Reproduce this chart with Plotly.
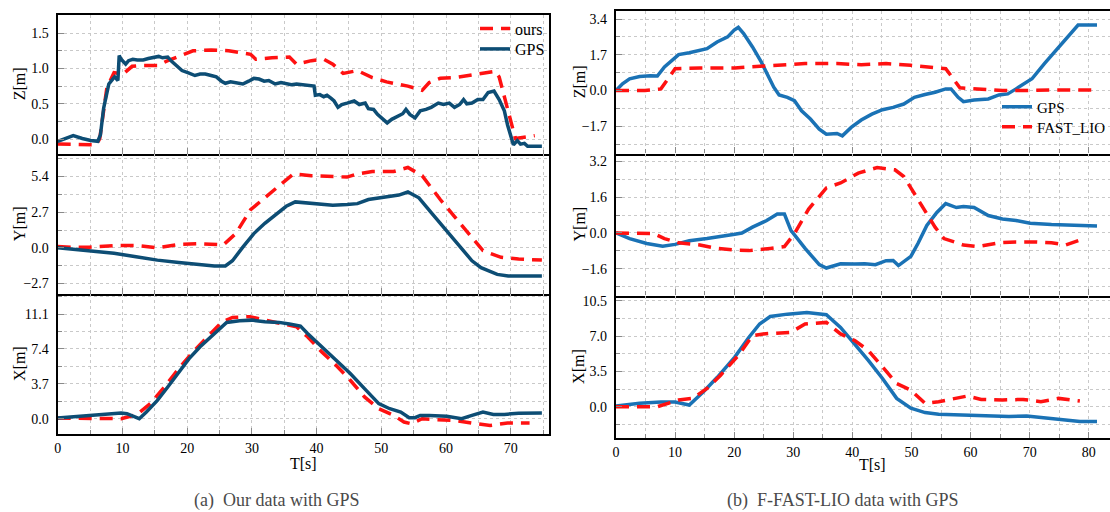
import plotly.graph_objects as go

# ---------------- data: panel (a) Our data with GPS ----------------
a_gps_z_t = [0, 2.4, 3.8, 5.1, 6.2, 6.6, 7.1, 7.5, 7.9, 8.5, 8.8, 9.3, 9.5, 9.8, 10.5, 10.95, 11.6, 12.3, 13.2, 14.0,
             14.8, 15.6, 16.2, 17.0, 17.6, 18.4, 19.2, 20.1, 21.2, 22.0, 22.8, 23.7, 24.5, 25.3, 25.9, 26.7, 27.5,
             28.6, 29.5, 30.3, 31.1, 31.9, 32.6, 33.6, 34.5, 35.3, 36.1, 36.9, 38.1, 39.2, 39.6, 39.8, 40.5, 41.1,
             41.6, 42.2, 42.7, 43.3, 43.9, 44.7, 45.8, 46.6, 47.5, 48.0, 48.8, 49.4, 50.2, 50.9, 51.6, 52.4, 53.3,
             53.8, 54.4, 55.2, 56.0, 56.9, 57.7, 58.8, 59.6, 60.5, 61.3, 62.1, 62.7, 63.2, 64.0, 64.9, 65.7, 66.5,
             67.4, 68.2, 69.0, 69.5, 69.9, 70.4, 71.0, 71.5, 72.1, 72.6, 74.8]
a_gps_z = [-0.03, 0.05, 0.01, -0.02, -0.03, 0.06, 0.44, 0.63, 0.78, 0.85, 0.88, 0.83, 1.18, 1.13, 1.06, 1.11, 1.13,
           1.12, 1.12, 1.14, 1.15, 1.17, 1.15, 1.16, 1.10, 1.04, 0.97, 0.94, 0.90, 0.92, 0.92, 0.90, 0.88, 0.82,
           0.79, 0.81, 0.80, 0.78, 0.82, 0.86, 0.85, 0.82, 0.83, 0.78, 0.80, 0.79, 0.77, 0.78, 0.77, 0.75, 0.75,
           0.62, 0.63, 0.60, 0.62, 0.58, 0.54, 0.45, 0.49, 0.51, 0.54, 0.49, 0.51, 0.43, 0.42, 0.35, 0.28, 0.23,
           0.28, 0.32, 0.36, 0.42, 0.35, 0.30, 0.40, 0.42, 0.45, 0.51, 0.49, 0.51, 0.45, 0.49, 0.56, 0.50, 0.51,
           0.56, 0.56, 0.66, 0.68, 0.56, 0.40, 0.20, 0.06, -0.08, -0.02, -0.07, -0.06, -0.10, -0.10]
a_ours_z_t = [0, 6.0, 6.5, 7.6, 8.7, 10.1, 11.5, 12.9, 15.4, 17.0, 19.5, 20.9, 23.7, 26.4, 29.8, 30.6, 33.1, 35.8,
              36.9, 39.2, 41.1, 42.5, 44.1, 46.3, 48.6, 50.8, 54.1, 56.3, 57.4, 59.1, 61.3, 63.5, 65.4, 67.6, 68.2,
              69.3, 70.7, 73.7]
a_ours_z = [-0.07, -0.08, 0.01, 0.73, 0.94, 0.92, 1.03, 1.04, 1.04, 1.11, 1.20, 1.25, 1.26, 1.25, 1.20, 1.13, 1.15,
            1.16, 1.06, 1.11, 1.13, 1.06, 0.93, 0.97, 0.87, 0.81, 0.75, 0.69, 0.80, 0.86, 0.87, 0.90, 0.92, 0.96,
            0.88, 0.49, 0.01, 0.05]

a_gps_y_t = [0, 4.9, 8.7, 12.1, 15.4, 18.7, 22.0, 24.2, 25.9, 27.0, 28.6, 30.3, 32.0, 33.6, 35.3, 36.7, 38.6, 40.8,
             42.5, 44.7, 46.3, 48.0, 49.7, 51.3, 52.7, 54.1, 55.8, 58.0, 60.2, 62.4, 64.0, 65.4, 67.9, 69.6, 71.8, 74.8]
a_gps_y = [0.0, -0.21, -0.41, -0.67, -0.93, -1.11, -1.24, -1.37, -1.37, -0.98, 0.05, 1.08, 1.86, 2.50, 3.15, 3.48,
           3.40, 3.28, 3.22, 3.28, 3.35, 3.66, 3.79, 3.87, 4.00, 4.23, 3.79, 2.50, 1.21, -0.08, -0.98, -1.50, -2.01,
           -2.14, -2.14, -2.14]
a_ours_y_t = [0, 2.1, 4.9, 9.3, 12.1, 15.4, 18.7, 22.0, 25.6, 27.5, 29.8, 32.0, 34.7, 36.4, 39.2, 41.9, 44.7, 46.3,
              48.6, 51.9, 54.1, 56.3, 59.1, 61.3, 63.5, 65.7, 68.5, 71.2, 74.8]
a_ours_y = [0.10, 0.05, 0.05, 0.18, 0.18, 0.0, 0.26, 0.31, 0.23, 1.08, 2.89, 3.79, 4.95, 5.60, 5.47, 5.42, 5.36,
            5.60, 5.78, 5.78, 6.09, 5.47, 3.66, 2.37, 1.08, -0.21, -0.72, -0.85, -0.93]

a_gps_x_t = [0, 4.9, 7.6, 9.8, 10.7, 12.6, 13.7, 15.4, 17.0, 18.7, 20.3, 22.0, 24.2, 26.1, 28.1, 30.0, 32.0, 34.2,
             35.8, 37.5, 38.6, 40.8, 43.0, 45.2, 47.4, 49.6, 51.3, 53.0, 54.3, 55.2, 56.0, 57.4, 60.1, 62.4, 64.0,
             65.7, 67.3, 69.0, 71.2, 74.8]
a_gps_x = [0.07, 0.35, 0.46, 0.60, 0.53, 0.0, 0.71, 1.95, 3.37, 4.97, 6.38, 7.63, 9.05, 10.22, 10.39, 10.46, 10.29,
           10.22, 10.04, 9.83, 9.05, 7.63, 6.21, 4.79, 3.19, 1.60, 1.06, 0.71, 0.11, 0.11, 0.35, 0.35, 0.25, 0.0,
           0.35, 0.71, 0.46, 0.46, 0.57, 0.60]
a_ours_x_t = [0, 4.3, 9.8, 12.3, 14.3, 16.5, 18.7, 20.9, 23.1, 25.3, 27.0, 29.7, 32.0, 34.2, 36.9, 38.6, 40.8, 43.0,
              45.2, 47.4, 49.6, 51.9, 53.5, 54.6, 56.3, 58.5, 61.2, 64.0, 66.8, 69.5, 72.9]
a_ours_x = [0.07, 0.0, 0.0, 0.46, 1.60, 3.37, 5.32, 7.09, 8.69, 10.22, 10.75, 10.82, 10.46, 10.11, 9.75, 8.69, 7.09,
            5.68, 4.08, 2.31, 1.06, 0.35, -0.35, -0.53, 0.0, -0.11, -0.18, -0.46, -0.71, -0.46, -0.46]

# ---------------- data: panel (b) F-FAST-LIO data with GPS ----------------
b_gps_z_t = [0, 1.1, 2.3, 4.0, 5.8, 7.0, 8.2, 9.4, 10.6, 12.4, 13.9, 15.4, 17.1, 18.9, 20.0, 20.7, 21.6, 23.1, 24.6,
             25.5, 26.7, 27.6, 29.0, 30.2, 31.4, 32.9, 34.4, 35.6, 37.4, 38.3, 39.8, 41.5, 43.3, 45.1, 46.9, 48.7,
             50.5, 52.3, 54.0, 55.8, 56.7, 57.9, 58.8, 60.6, 63.0, 64.8, 66.3, 67.7, 70.4, 72.5, 74.9, 78.2, 81.4]
b_gps_z = [0.0, 0.32, 0.56, 0.67, 0.70, 0.69, 1.12, 1.43, 1.71, 1.80, 1.88, 1.99, 2.31, 2.55, 2.87, 3.00, 2.71, 2.07,
           1.35, 0.80, 0.16, -0.21, -0.32, -0.48, -0.96, -1.35, -1.83, -2.07, -2.04, -2.15, -1.75, -1.40, -1.12,
           -0.91, -0.80, -0.64, -0.32, -0.19, -0.08, 0.08, 0.08, -0.32, -0.53, -0.45, -0.40, -0.21, -0.16, 0.08,
           0.56, 1.28, 2.07, 3.11, 3.11]
b_lio_z_t = [0, 2.3, 4.9, 7.6, 8.8, 10.0, 14.2, 20.1, 22.5, 26.1, 29.0, 32.0, 37.4, 41.5, 45.7, 49.9, 55.8, 58.2,
             61.8, 65.4, 69.5, 73.7, 81.4]
b_lio_z = [0.0, 0.0, 0.0, 0.08, 0.56, 1.04, 1.07, 1.07, 1.12, 1.16, 1.23, 1.28, 1.28, 1.23, 1.28, 1.20, 1.04, 0.13,
           0.08, 0.0, 0.0, 0.03, 0.03]

b_gps_y_t = [0, 2.3, 5.2, 7.9, 10.0, 12.4, 15.4, 18.3, 20.1, 21.3, 23.1, 25.5, 27.3, 28.5, 29.6, 32.0, 34.4, 35.6,
             38.0, 40.4, 42.1, 43.9, 45.7, 46.9, 47.8, 49.9, 51.1, 52.6, 54.3, 55.8, 57.6, 58.8, 60.6, 63.0, 65.4,
             67.7, 70.1, 73.7, 77.3, 81.4]
b_gps_y = [0.0, -0.25, -0.47, -0.59, -0.51, -0.35, -0.25, -0.15, -0.06, 0.0, 0.26, 0.56, 0.85, 0.85, 0.12, -0.69,
           -1.42, -1.57, -1.38, -1.39, -1.38, -1.42, -1.24, -1.23, -1.46, -1.05, -0.47, 0.34, 0.92, 1.32, 1.14, 1.19,
           1.14, 0.78, 0.63, 0.56, 0.44, 0.38, 0.34, 0.31]
b_lio_y_t = [0, 3.5, 6.4, 8.2, 10.6, 14.2, 17.1, 20.1, 22.5, 26.1, 28.5, 30.2, 32.6, 35.6, 38.0, 41.0, 44.2, 47.2,
             48.7, 49.9, 52.3, 54.0, 55.5, 58.8, 61.2, 64.8, 67.7, 70.7, 73.7, 76.1, 78.5]
b_lio_y = [0.0, -0.03, -0.03, -0.25, -0.44, -0.54, -0.69, -0.76, -0.79, -0.69, -0.61, -0.03, 1.07, 2.02, 2.24, 2.68,
           2.93, 2.83, 2.53, 2.02, 0.99, 0.26, -0.25, -0.54, -0.61, -0.44, -0.40, -0.40, -0.44, -0.54, -0.32]

b_gps_x_t = [0, 4.0, 7.6, 10.0, 12.4, 14.8, 17.1, 20.1, 22.5, 24.3, 26.1, 29.0, 32.3, 35.6, 38.0, 40.4, 42.7, 45.1,
             47.5, 49.9, 52.3, 54.6, 57.6, 60.6, 64.2, 66.5, 69.5, 72.5, 75.5, 78.5, 81.4]
b_gps_x = [0.07, 0.33, 0.46, 0.46, 0.16, 1.48, 2.89, 4.92, 6.89, 8.20, 8.95, 9.18, 9.35, 9.12, 7.87, 6.23, 4.59, 2.79,
           0.82, -0.16, -0.59, -0.75, -0.82, -0.89, -0.98, -0.98, -0.92, -1.08, -1.25, -1.48, -1.48]
b_lio_x_t = [0, 7.0, 10.6, 13.0, 15.4, 17.7, 20.7, 23.1, 24.9, 27.3, 29.6, 32.0, 35.6, 38.0, 40.4, 42.7, 45.1, 47.5,
             49.9, 52.3, 54.6, 59.4, 61.8, 65.4, 68.9, 71.9, 74.9, 78.5]
b_lio_x = [0.0, 0.0, 0.66, 0.82, 1.80, 3.12, 5.08, 7.05, 7.22, 7.28, 7.38, 8.20, 8.36, 7.22, 6.56, 5.58, 3.94, 2.30,
           1.64, 0.33, 0.49, 1.05, 0.72, 0.66, 0.72, 0.49, 0.82, 0.56]

# ---------------- tick values / labels ----------------
t_ticks_a = [0, 10, 20, 30, 40, 50, 60, 70]
t_ticks_b = [0, 10, 20, 30, 40, 50, 60, 70, 80]
a_z_ticks = [0.0, 0.5, 1.0, 1.5]
a_y_ticks = [-2.7, 0.0, 2.7, 5.4]
a_x_ticks = [0.0, 3.7, 7.4, 11.1]
b_z_ticks = [-1.7, 0.0, 1.7, 3.4]
b_y_ticks = [-1.6, 0.0, 1.6, 3.2]
b_x_ticks = [0.0, 3.5, 7.0, 10.5]

labels_a = ["Z[m]", "Y[m]", "X[m]"]
labels_b = ["Z[m]", "Y[m]", "X[m]"]
caption_a = "(a)  Our data with GPS"
caption_b = "(b)  F-FAST-LIO data with GPS"

# ---------------- style ----------------
W, H = 1110, 512
FONT = "Liberation Serif, Times New Roman, DejaVu Serif, serif"
RED = "#ff1111"
NAVY = "#0d4d74"
BLUE = "#1a72b5"
GRID = "#c9c9c9"
DASH = "13px,8px"


def py(px):
    return 1 - px / H


def px_x(px):
    return px / W


fig = go.Figure()

# panel (a)
fig.add_trace(go.Scatter(x=a_ours_z_t, y=a_ours_z, name="ours", mode="lines",
                         line=dict(color=RED, width=3.5, dash=DASH), xaxis="x", yaxis="y", legend="legend"))
fig.add_trace(go.Scatter(x=a_gps_z_t, y=a_gps_z, name="GPS", mode="lines",
                         line=dict(color=NAVY, width=3.5), xaxis="x", yaxis="y", legend="legend2"))
fig.add_trace(go.Scatter(x=a_ours_y_t, y=a_ours_y, showlegend=False, mode="lines",
                         line=dict(color=RED, width=3.5, dash=DASH), xaxis="x2", yaxis="y2"))
fig.add_trace(go.Scatter(x=a_gps_y_t, y=a_gps_y, showlegend=False, mode="lines",
                         line=dict(color=NAVY, width=3.5), xaxis="x2", yaxis="y2"))
fig.add_trace(go.Scatter(x=a_ours_x_t, y=a_ours_x, showlegend=False, mode="lines",
                         line=dict(color=RED, width=3.5, dash=DASH), xaxis="x3", yaxis="y3"))
fig.add_trace(go.Scatter(x=a_gps_x_t, y=a_gps_x, showlegend=False, mode="lines",
                         line=dict(color=NAVY, width=3.5), xaxis="x3", yaxis="y3"))

# panel (b)
fig.add_trace(go.Scatter(x=b_gps_z_t, y=b_gps_z, name="GPS", mode="lines",
                         line=dict(color=BLUE, width=3.5), xaxis="x4", yaxis="y4", legend="legend3"))
fig.add_trace(go.Scatter(x=b_lio_z_t, y=b_lio_z, name="FAST_LIO", mode="lines",
                         line=dict(color=RED, width=3.5, dash=DASH), xaxis="x4", yaxis="y4", legend="legend4"))
fig.add_trace(go.Scatter(x=b_gps_y_t, y=b_gps_y, showlegend=False, mode="lines",
                         line=dict(color=BLUE, width=3.5), xaxis="x5", yaxis="y5"))
fig.add_trace(go.Scatter(x=b_lio_y_t, y=b_lio_y, showlegend=False, mode="lines",
                         line=dict(color=RED, width=3.5, dash=DASH), xaxis="x5", yaxis="y5"))
fig.add_trace(go.Scatter(x=b_gps_x_t, y=b_gps_x, showlegend=False, mode="lines",
                         line=dict(color=BLUE, width=3.5), xaxis="x6", yaxis="y6"))
fig.add_trace(go.Scatter(x=b_lio_x_t, y=b_lio_x, showlegend=False, mode="lines",
                         line=dict(color=RED, width=3.5, dash=DASH), xaxis="x6", yaxis="y6"))

tickfont = dict(family=FONT, size=14, color="black")


def xaxis(domain, anchor, rng, dtick_minor, tickvals, show_labels, mirror=True):
    return dict(domain=domain, anchor=anchor, range=rng, tickmode="array", tickvals=tickvals,
                showticklabels=show_labels, tickfont=tickfont, ticks="inside", ticklen=6, tickcolor="#8a8a8a",
                showgrid=True, gridcolor=GRID, griddash="dot", gridwidth=1,
                minor=dict(tickmode="linear", tick0=0, dtick=dtick_minor, showgrid=True, gridcolor=GRID,
                           griddash="dot", gridwidth=1, ticks="inside", ticklen=4, tickcolor="#8a8a8a"),
                showline=True, linecolor="black", linewidth=2.2, mirror=mirror, zeroline=False,
                ticklabelstandoff=0)


def yaxis(domain, anchor, rng, dtick_minor, tickvals, mirror=True):
    return dict(domain=domain, anchor=anchor, range=rng, tickmode="array", tickvals=tickvals,
                tickformat=".1f", tickfont=tickfont, ticks="inside", ticklen=6, tickcolor="#8a8a8a",
                showgrid=True, gridcolor=GRID, griddash="dot", gridwidth=1,
                minor=dict(tickmode="linear", tick0=0, dtick=dtick_minor, showgrid=True, gridcolor=GRID,
                           griddash="dot", gridwidth=1, ticks="inside", ticklen=4, tickcolor="#8a8a8a"),
                showline=True, linecolor="black", linewidth=2.2, mirror=mirror, zeroline=False,
                ticklabelstandoff=4)


def legend_at(x_px, y_px, size=16):
    return dict(x=px_x(x_px), y=py(y_px), xanchor="left", yanchor="middle", bgcolor="rgba(255,255,255,0)",
                borderwidth=0, font=dict(family=FONT, size=size, color="black"), itemwidth=30)


xa_dom = [px_x(57.7), px_x(549)]
xb_dom = [px_x(616), 1.0]

a_rows = [(14.7, 154), (154, 294.3), (294.3, 433.7)]
b_rows = [(11, 153.5), (153.5, 295.5), (295.5, 438.3)]

layout = dict(
    width=W, height=H, paper_bgcolor="white", plot_bgcolor="white",
    margin=dict(l=0, r=0, t=0, b=0, autoexpand=False),
    font=dict(family=FONT, size=14, color="black"),
    xaxis=xaxis(xa_dom, "y", [0, 75.9], 5, t_ticks_a, False, mirror=True),
    xaxis2=xaxis(xa_dom, "y2", [0, 75.9], 5, t_ticks_a, False, mirror=False),
    xaxis3=xaxis(xa_dom, "y3", [0, 75.9], 5, t_ticks_a, True, mirror=False),
    yaxis=yaxis([py(a_rows[0][1]), py(a_rows[0][0])], "x", [-0.21, 1.76], 0.25, a_z_ticks),
    yaxis2=yaxis([py(a_rows[1][1]), py(a_rows[1][0])], "x2", [-3.52, 7.11], 1.35, a_y_ticks),
    yaxis3=yaxis([py(a_rows[2][1]), py(a_rows[2][0])], "x3", [-1.59, 13.2], 1.85, a_x_ticks),
    xaxis4=xaxis(xb_dom, "y4", [0, 83.6], 5, t_ticks_b, False, mirror=True),
    xaxis5=xaxis(xb_dom, "y5", [0, 83.6], 5, t_ticks_b, False, mirror=False),
    xaxis6=xaxis(xb_dom, "y6", [0, 83.6], 5, t_ticks_b, True, mirror=False),
    yaxis4=yaxis([py(b_rows[0][1]), py(b_rows[0][0])], "x4", [-2.99, 3.78], 0.85, b_z_ticks, mirror=False),
    yaxis5=yaxis([py(b_rows[1][1]), py(b_rows[1][0])], "x5", [-2.8, 3.56], 0.8, b_y_ticks, mirror=False),
    yaxis6=yaxis([py(b_rows[2][1]), py(b_rows[2][0])], "x6", [-3.14, 11.03], 1.75, b_x_ticks, mirror=False),
    legend=legend_at(475, 28.6),
    legend2=legend_at(475, 49),
    legend3=legend_at(997, 107, 15),
    legend4=legend_at(997, 127, 15),
)
fig.update_layout(**layout)

annotations = []
# y-axis titles
for lab, (top, bot) in zip(labels_a, a_rows):
    annotations.append(dict(text=lab, x=px_x(19), y=py((top + bot) / 2), xref="paper", yref="paper",
                            textangle=-90, showarrow=False, xanchor="center", yanchor="middle",
                            font=dict(family=FONT, size=16, color="black")))
for lab, (top, bot) in zip(labels_b, b_rows):
    annotations.append(dict(text=lab, x=px_x(579), y=py((top + bot) / 2), xref="paper", yref="paper",
                            textangle=-90, showarrow=False, xanchor="center", yanchor="middle",
                            font=dict(family=FONT, size=16, color="black")))
# x-axis titles
annotations.append(dict(text="T[s]", x=px_x(303), y=py(463), xref="paper", yref="paper", showarrow=False,
                        xanchor="center", yanchor="middle", font=dict(family=FONT, size=16, color="black")))
annotations.append(dict(text="T[s]", x=px_x(872), y=py(464), xref="paper", yref="paper", showarrow=False,
                        xanchor="center", yanchor="middle", font=dict(family=FONT, size=16, color="black")))
# captions
annotations.append(dict(text=caption_a, x=px_x(276), y=py(500), xref="paper", yref="paper", showarrow=False,
                        xanchor="center", yanchor="middle", font=dict(family=FONT, size=18, color="#4a4a4a")))
annotations.append(dict(text=caption_b, x=px_x(843), y=py(500), xref="paper", yref="paper", showarrow=False,
                        xanchor="center", yanchor="middle", font=dict(family=FONT, size=18, color="#4a4a4a")))
fig.update_layout(annotations=annotations)

fig.write_html("out.html", config={"displayModeBar": False},
               post_script="document.body.style.margin='0';document.body.style.overflow='hidden';")
